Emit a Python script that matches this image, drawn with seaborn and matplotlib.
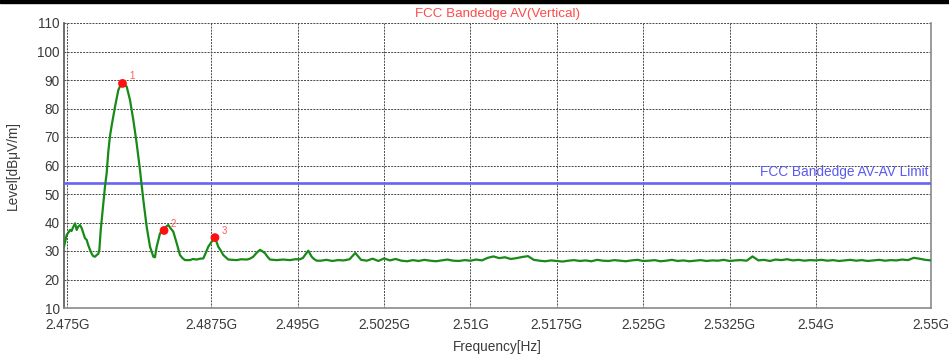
import matplotlib
matplotlib.use("Agg")
import matplotlib.pyplot as plt
import pandas as pd
import seaborn as sns
from matplotlib.patches import Rectangle

# Measured trace: frequency in MHz, level in dBuV/m
freq_mhz = [
    2474.70, 2474.93, 2475.09, 2475.22, 2475.35, 2475.51, 2475.66, 2475.80, 2475.94, 2476.09,
    2476.24, 2476.38, 2476.52, 2476.67, 2476.81, 2476.96, 2477.11, 2477.24, 2477.39, 2477.54,
    2477.68, 2477.77, 2477.89, 2478.06, 2478.26, 2478.41, 2478.55, 2478.70, 2478.84, 2479.13,
    2479.42, 2479.61, 2479.78, 2479.95, 2480.15, 2480.43, 2480.72, 2481.01, 2481.30, 2481.59,
    2481.88, 2482.17, 2482.46, 2482.60, 2482.75, 2483.04, 2483.39, 2483.56, 2483.76, 2483.99,
    2484.19, 2484.49, 2484.77, 2484.99, 2485.21, 2485.64, 2485.90, 2486.23, 2486.51, 2486.80,
    2487.03, 2487.23, 2487.53, 2487.81, 2487.96, 2488.10, 2488.34, 2488.53, 2488.97, 2489.29,
    2489.70, 2490.07, 2490.57, 2490.85, 2491.14, 2491.46, 2491.72, 2491.90, 2492.16, 2492.37,
    2492.59, 2493.17, 2493.72, 2494.33, 2494.76, 2495.20, 2495.46, 2495.63, 2495.92, 2496.21,
    2496.41, 2496.65,
    2497.0, 2497.5, 2498.0, 2498.5, 2499.0, 2499.5, 2500.0, 2500.5, 2501.0, 2501.5,
    2502.0, 2502.5, 2503.0, 2503.5, 2504.0, 2504.5, 2505.0, 2505.5, 2506.0, 2506.5,
    2507.0, 2507.5, 2508.0, 2508.5, 2509.0, 2509.5, 2510.0, 2510.5, 2511.0, 2511.5,
    2512.0, 2512.5, 2513.0, 2513.5, 2514.0, 2514.5, 2515.0, 2515.5, 2516.0, 2516.5,
    2517.0, 2517.5, 2518.0, 2518.5, 2519.0, 2519.5, 2520.0, 2520.5, 2521.0, 2521.5,
    2522.0, 2522.5, 2523.0, 2523.5, 2524.0, 2524.5, 2525.0, 2525.5, 2526.0, 2526.5,
    2527.0, 2527.5, 2528.0, 2528.5, 2529.0, 2529.5, 2530.0, 2530.5, 2531.0, 2531.5,
    2532.0, 2532.5, 2533.0, 2533.5, 2534.0, 2534.5, 2535.0, 2535.5, 2536.0, 2536.5,
    2537.0, 2537.5, 2538.0, 2538.5, 2539.0, 2539.5, 2540.0, 2540.5, 2541.0, 2541.5,
    2542.0, 2542.5, 2543.0, 2543.5, 2544.0, 2544.5, 2545.0, 2545.5, 2546.0, 2546.5,
    2547.0, 2547.5, 2548.0, 2548.5, 2549.0, 2549.5, 2550.0,
]
level_dbuv = [
    31.5, 35.6, 36.5, 37.4, 37.0, 38.5, 39.7, 37.4, 38.6, 39.1,
    38.0, 36.2, 34.5, 33.9, 32.0, 30.4, 29.0, 28.2, 28.0, 28.6,
    29.0, 30.4, 37.4, 44.4, 52.6, 57.5, 65.0, 70.5, 74.0, 80.6,
    86.5, 88.2, 88.8, 88.6, 87.6, 83.0, 76.0, 67.8, 58.4, 47.9,
    38.5, 31.5, 28.0, 27.8, 31.5, 36.2, 37.2, 38.5, 39.1, 37.8,
    36.8, 32.7, 28.6, 27.5, 26.8, 26.8, 27.2, 27.0, 27.3, 27.4,
    29.5, 31.5, 33.3, 34.7, 33.0, 31.5, 30.0, 28.6, 27.0, 26.9,
    26.8, 27.1, 27.0, 27.3, 28.0, 29.5, 30.4, 30.0, 29.2, 28.0,
    27.0, 26.8, 27.0, 26.8, 27.1, 27.1, 27.6, 28.6, 30.1, 28.0,
    27.2, 26.6,
    26.6, 26.9, 26.5, 26.8, 26.7, 27.1, 29.3, 26.9, 26.6, 27.3,
    26.5, 27.4, 26.7, 27.2, 26.6, 26.4, 26.8, 26.5, 26.9, 26.6,
    26.4, 26.7, 27.0, 26.6, 26.5, 26.8, 26.6, 27.0, 26.7, 27.6,
    28.1, 27.5, 27.8, 27.2, 27.5, 27.9, 28.2, 26.9, 26.6, 26.4,
    26.7, 26.5, 26.3, 26.6, 26.8, 26.5, 26.7, 26.4, 26.9, 26.6,
    26.5, 26.8, 26.6, 26.4, 26.7, 26.9, 26.5, 26.6, 26.8, 26.4,
    26.6, 26.9, 26.5, 26.7, 26.4, 26.6, 26.8, 26.5, 26.7, 26.6,
    26.9, 26.5, 26.7, 26.8, 26.6, 28.1, 26.7, 26.9, 26.5, 27.0,
    26.8, 27.1, 26.7, 26.9, 26.6, 26.8, 26.7, 26.9, 26.6, 26.8,
    26.5, 26.7, 26.9, 26.6, 26.8, 26.5, 26.7, 26.9, 26.6, 26.8,
    26.7, 27.0, 26.8, 27.6, 27.3, 26.9, 26.7,
]

# Marker readouts
marker_ids = ["1", "2", "3"]
marker_freq_mhz = [2479.78, 2483.39, 2487.81]
marker_level = [88.8, 37.2, 34.7]

limit_level = 54.0
limit_name = "FCC Bandedge AV-AV Limit"
chart_title = "FCC Bandedge AV(Vertical)"

x_ticks_ghz = [2.475, 2.4875, 2.495, 2.5025, 2.51, 2.5175, 2.525, 2.5325, 2.54, 2.55]
x_tick_labels = ["2.475G", "2.4875G", "2.495G", "2.5025G", "2.51G", "2.5175G",
                 "2.525G", "2.5325G", "2.54G", "2.55G"]
y_ticks = [10, 20, 30, 40, 50, 60, 70, 80, 90, 100, 110]

trace = pd.DataFrame({"freq_ghz": [f / 1000 for f in freq_mhz], "level": level_dbuv})
markers = pd.DataFrame({"freq_ghz": [f / 1000 for f in marker_freq_mhz],
                        "level": marker_level, "id": marker_ids})

sns.set_style("white")
plt.rcParams["font.family"] = ["Liberation Sans", "DejaVu Sans"]

text_grey = "#3a3a3a"
fig = plt.figure(figsize=(9.49, 3.56), dpi=100)
ax = fig.add_axes([64 / 949, 1 - 308 / 356, 867 / 949, 285 / 356])

ax.axhline(limit_level, color="#6464f8", lw=1.9, zorder=3)
sns.lineplot(data=trace, x="freq_ghz", y="level", ax=ax, color="#178a17",
             lw=1.6, sort=False, estimator=None, zorder=4)
sns.scatterplot(data=markers, x="freq_ghz", y="level", ax=ax, color="#ff1010",
                s=40, edgecolor="none", zorder=5)
for _, row in markers.iterrows():
    ax.annotate(row["id"], (row["freq_ghz"], row["level"]), xytext=(6.5, 5),
                textcoords="offset points", fontsize=7, color="#ff5a5a",
                ha="center", va="center", zorder=6)

ax.annotate(limit_name, xy=(1, limit_level), xycoords=("axes fraction", "data"),
            xytext=(-2, 2.5), textcoords="offset points", ha="right", va="bottom",
            fontsize=9.8, color="#5a5af0")

ax.set_xlim(2.4747, 2.55)
ax.set_ylim(10, 110)
ax.set_xticks(x_ticks_ghz)
ax.set_xticklabels(x_tick_labels)
ax.set_yticks(y_ticks)
ax.tick_params(axis="both", length=0, labelsize=9.8, colors=text_grey)
ax.tick_params(axis="x", pad=7)
ax.tick_params(axis="y", pad=3)

ax.grid(True, color="#484848", lw=0.7, linestyle=(0, (2.0, 1.2)))
ax.set_axisbelow(True)
for side in ["left", "bottom", "right"]:
    ax.spines[side].set_color("#8a8a8a")
    ax.spines[side].set_linewidth(1.2)
ax.spines["left"].set_color("#555555")
ax.spines["top"].set_visible(False)

ax.set_title(chart_title, color="#ff4a4a", fontsize=9.6, pad=4)
ax.set_xlabel("Frequency[Hz]", fontsize=9.8, color=text_grey)
ax.set_ylabel("Level[dBμV/m]", fontsize=9.8, color=text_grey)
ax.xaxis.set_label_coords(0.5, -0.112)
ax.yaxis.set_label_coords(-0.051, 0.5)

# thin black band along the top edge of the figure
fig.add_artist(Rectangle((0, 1 - 3 / 356), 1, 3 / 356, transform=fig.transFigure,
                         color="black", zorder=10))

fig.savefig("out.png", dpi=100)
